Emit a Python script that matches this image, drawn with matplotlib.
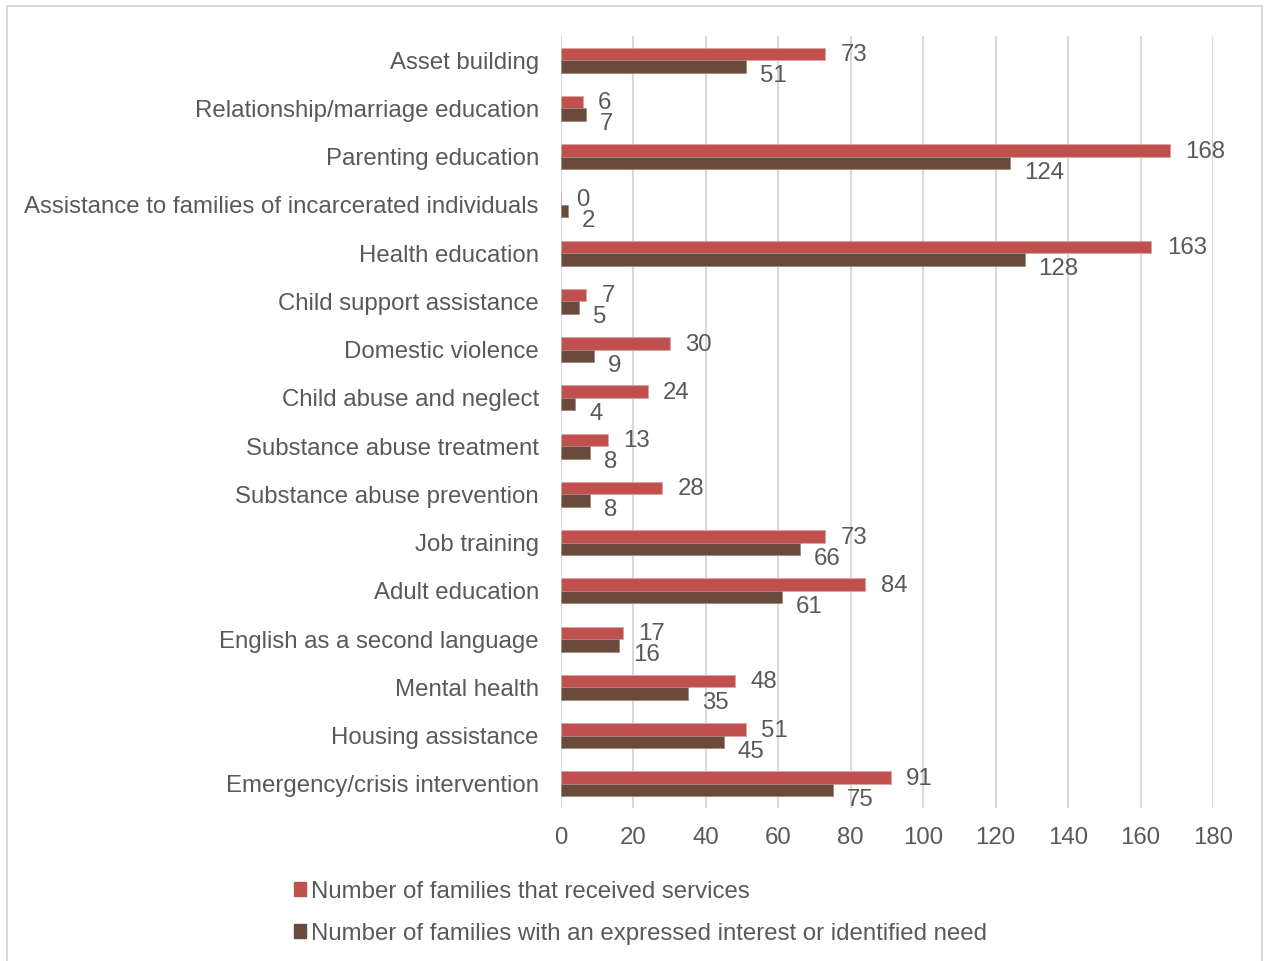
import numpy as np
import matplotlib.pyplot as plt
from matplotlib.patches import Rectangle, Patch

plt.rcParams['font.family'] = ['Liberation Sans', 'DejaVu Sans']

categories = [
    "Asset building",
    "Relationship/marriage education",
    "Parenting education",
    "Assistance to families of incarcerated individuals",
    "Health education",
    "Child support assistance",
    "Domestic violence",
    "Child abuse and neglect",
    "Substance abuse treatment",
    "Substance abuse prevention",
    "Job training",
    "Adult education",
    "English as a second language",
    "Mental health",
    "Housing assistance",
    "Emergency/crisis intervention",
]
received = [73, 6, 168, 0, 163, 7, 30, 24, 13, 28, 73, 84, 17, 48, 51, 91]
interest = [51, 7, 124, 2, 128, 5, 9, 4, 8, 8, 66, 61, 16, 35, 45, 75]
series_names = [
    "Number of families that received services",
    "Number of families with an expressed interest or identified need",
]

red = "#C0504D"
brown = "#6A4A3C"
text_col = "#595959"
grid_col = "#D9D9D9"
fs = 17.3

fig = plt.figure(figsize=(12.65, 9.61), dpi=100)
ax = fig.add_axes([561 / 1265, 1 - 808 / 961, (1213 - 561) / 1265, (808 - 36) / 961])

y = np.arange(len(categories))
h = 0.26
ax.barh(y - h / 2, received, height=h, color=red, edgecolor="#D9A5A3", linewidth=0.6, zorder=3)
ax.barh(y + h / 2, interest, height=h, color=brown, edgecolor="#A08A80", linewidth=0.6, zorder=3)

# value labels just past the bar ends, interest labels nudged down a little
for yi, r, b in zip(y, received, interest):
    ax.annotate(str(r), (r, yi - h / 2), xytext=(11, -1), textcoords="offset points",
                ha="left", va="center", fontsize=fs, color=text_col)
    ax.annotate(str(b), (b, yi + h / 2), xytext=(10, -7), textcoords="offset points",
                ha="left", va="center", fontsize=fs, color=text_col)

ax.set_xlim(0, 180)
ax.set_ylim(len(categories) - 0.5, -0.5)
ax.set_xticks(np.arange(0, 181, 20))
ax.set_yticks(y)
ax.set_yticklabels(categories)
ax.tick_params(axis="both", length=0, labelsize=fs, labelcolor=text_col)
ax.tick_params(axis="y", pad=16)
ax.tick_params(axis="x", pad=14)
ax.grid(axis="x", color=grid_col, linewidth=1.5, zorder=0)
ax.set_axisbelow(True)
for s in ax.spines.values():
    s.set_visible(False)

handles = [Patch(color=red), Patch(color=brown)]
fig.legend(handles, series_names, loc="upper left", bbox_to_anchor=(272 / 1265, 1 - 859 / 961),
           frameon=False, fontsize=fs, labelcolor=text_col, handlelength=0.5, handleheight=0.5,
           handletextpad=0.22, labelspacing=0.83)

fig.patches.append(Rectangle((7 / 1265, -0.01), (1262 - 7) / 1265, 1 - 6 / 961 + 0.01,
                             transform=fig.transFigure, fill=False, edgecolor=grid_col, linewidth=1.5))

fig.savefig("out.png", dpi=100)
